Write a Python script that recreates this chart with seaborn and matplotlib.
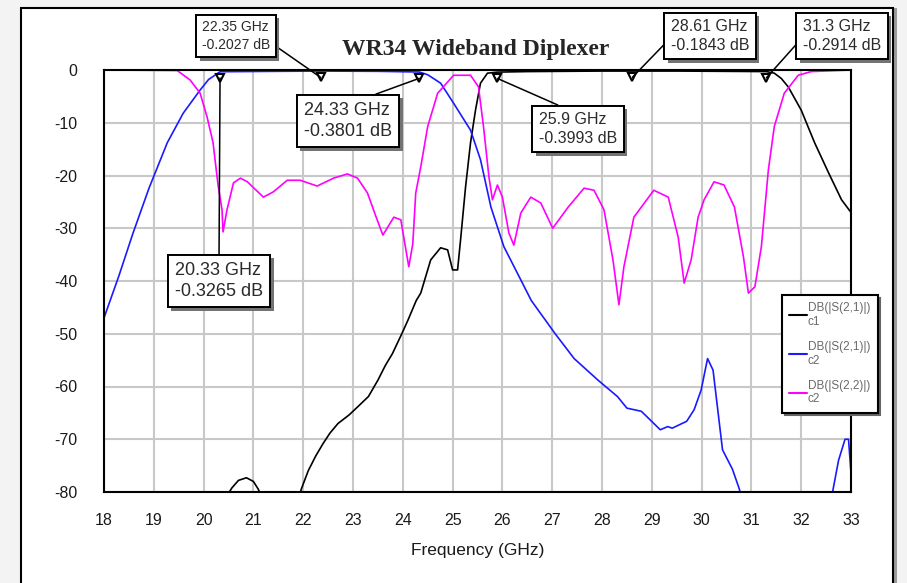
import seaborn as sns
import matplotlib.pyplot as plt
import matplotlib.patheffects as pe
from matplotlib.patches import Rectangle

# DB(|S(2,1)|) c1 - high band channel
freq_c1 = [18.0, 20.45, 20.57, 20.7, 20.86, 21.0, 21.1, 21.2, 21.9, 21.96, 22.1, 22.25, 22.4,
           22.54, 22.7, 22.92, 23.1, 23.31, 23.5, 23.65, 23.79, 23.98, 24.1, 24.27, 24.36, 24.56,
           24.76, 24.9, 25.0, 25.1, 25.16, 25.26, 25.36, 25.46, 25.56, 25.7, 25.9, 26.5, 28.0,
           29.5, 31.3, 31.46, 31.6, 31.74, 32.0, 32.27, 32.55, 32.81, 33.0]
db_c1 = [-95, -81, -79.2, -77.8, -77.3, -78.0, -79.5, -82, -82, -79.5, -76, -73.2, -70.8,
         -68.8, -67, -65.4, -63.8, -61.9, -58.8, -56, -53.8, -50, -47.5, -43.7, -42.3, -36,
         -33.7, -34.1, -37.9, -37.9, -32.2, -22.2, -13.8, -7.6, -2.5, -0.6, -0.4, -0.3, -0.2,
         -0.2, -0.3, -0.6, -1.6, -3.2, -7.6, -13.8, -19.5, -24.6, -27]

# DB(|S(2,1)|) c2 - low band channel
freq_c2 = [18.0, 18.3, 18.58, 18.9, 19.27, 19.59, 19.93, 20.1, 20.33, 21.5, 22.35, 23.5, 24.33,
           24.5, 24.76, 25.02, 25.36, 25.56, 25.77, 26.03, 26.37, 26.58, 27.06, 27.44, 27.92,
           28.31, 28.5, 28.79, 29.17, 29.32, 29.41, 29.7, 29.85, 29.99, 30.12, 30.23, 30.42,
           30.62, 30.76, 30.85, 32.55, 32.64, 32.75, 32.88, 32.95, 33.0]
db_c2 = [-47, -39, -31, -22.5, -13.8, -8.2, -3.8, -1.8, -0.33, -0.25, -0.2, -0.25, -0.38,
         -0.9, -2.5, -6.3, -11.4, -17, -26, -33.5, -39.8, -43.7, -50, -54.7, -58.8,
         -61.9, -64.1, -64.7, -68.2, -67.6, -67.9, -66.6, -64.4, -60.7, -54.7, -56.9, -72,
         -75.7, -79.5, -85, -85, -79.5, -74, -70, -70, -76.4]

# DB(|S(2,2)|) c2 - common port return loss
freq_s22 = [18.0, 19.47, 19.73, 19.93, 20.07, 20.19, 20.29, 20.37, 20.39, 20.47, 20.6, 20.74,
            20.88, 21.2, 21.4, 21.68, 21.94, 22.28, 22.61, 22.89, 23.09, 23.29, 23.45, 23.6,
            23.82, 23.96, 24.12, 24.2, 24.26, 24.36, 24.5, 24.7, 25.02, 25.36, 25.52, 25.62,
            25.73, 25.8, 25.9, 26.0, 26.13, 26.23, 26.37, 26.57, 26.77, 27.01, 27.32, 27.64,
            27.84, 28.04, 28.22, 28.34, 28.44, 28.64, 29.04, 29.33, 29.53, 29.65, 29.79, 29.93,
            30.05, 30.25, 30.45, 30.66, 30.84, 30.94, 31.07, 31.2, 31.34, 31.46, 31.66, 31.94,
            32.2, 33.0]
db_s22 = [0, -0.1, -1.9, -4.4, -8.9, -13.8, -21.8, -26.5, -30.7, -26.5, -21.4, -20.5,
          -21.2, -24.1, -23.1, -20.9, -20.9, -22.0, -20.5, -19.7, -20.5, -23.3, -27.5, -31.3,
          -27.9, -28.4, -37.3, -33, -23.3, -18.4, -10.7, -4.4, -1.0, -1.0, -3.2, -10.7,
          -20.3, -24.6, -21.8, -24.1, -30.9, -33.2, -27.1, -24.1, -25.2, -30.0, -26.0, -22.4,
          -22.8, -26.5, -36.0, -44.5, -37.3, -27.9, -22.8, -24.1, -31.7, -40.4, -36.0, -27.9,
          -24.6, -21.2, -21.8, -26.0, -35.4, -42.3, -41.1, -33.5, -19.0, -10.7, -4.4, -1.0,
          -0.3, 0]

# markers: frequency, dB
marker_freq = [20.33, 22.35, 24.33, 25.9, 28.61, 31.3]
marker_db = [-0.3265, -0.2027, -0.3801, -0.3993, -0.1843, -0.2914]

x_ticks = list(range(18, 34))
y_ticks = list(range(0, -81, -10))
legend_labels = ["DB(|S(2,1)|)\nc1", "DB(|S(2,1)|)\nc2", "DB(|S(2,2)|)\nc2"]

sns.set_style("white")
plt.rcParams["font.family"] = ["Liberation Sans", "DejaVu Sans"]
plt.rcParams["axes.unicode_minus"] = False

W, H = 907, 583
fig = plt.figure(figsize=(W / 100, H / 100), dpi=100, facecolor="#f3f3f3")

# window frame
fig.add_artist(Rectangle((25 / W, -0.05), 872 / W, 1.05 - 8 / H, transform=fig.transFigure,
                         fc="#9a9a9a", ec="none", zorder=-3))
fig.add_artist(Rectangle((21 / W, -0.05), 872 / W, 1.05 - 8 / H, transform=fig.transFigure,
                         fc="white", ec="black", lw=1.5, zorder=-2))

ax = fig.add_axes([104 / W, 1 - 492 / H, 747 / W, 422 / H])
ax.set_facecolor("white")

sns.lineplot(x=freq_c1, y=db_c1, ax=ax, color="black", lw=1.2, sort=False, estimator=None,
             label=legend_labels[0])
sns.lineplot(x=freq_c2, y=db_c2, ax=ax, color="#1a1aff", lw=1.2, sort=False, estimator=None,
             label=legend_labels[1])
sns.lineplot(x=freq_s22, y=db_s22, ax=ax, color="#ff00ff", lw=1.2, sort=False, estimator=None,
             label=legend_labels[2])
ax.plot(marker_freq, [d - 1.2 for d in marker_db], "v", ms=6, mfc="white", mec="black",
        mew=1.5, clip_on=False, zorder=5)

ax.set_xlim(18, 33)
ax.set_ylim(-80, 0)
ax.set_xticks(x_ticks)
ax.set_yticks(y_ticks)
ax.grid(True, color="#c8c8c8", lw=1.5)
ax.set_axisbelow(True)
for s in ax.spines.values():
    s.set_color("black")
    s.set_linewidth(1.5)
ax.tick_params(axis="both", length=0, labelsize=11.5, colors="#1a1a1a")
ax.tick_params(axis="y", pad=19)
ax.tick_params(axis="x", pad=15)
ax.set_xlabel("Frequency (GHz)", fontsize=12.5, color="#1a1a1a", labelpad=11)
ax.set_ylabel("")

leg = ax.legend(loc="upper left", bbox_to_anchor=((782 - 104) / 747, (492 - 295) / 422),
                borderaxespad=0, fontsize=8.5, frameon=True, fancybox=False,
                shadow={"color": "0.4", "alpha": 1}, handlelength=1.5, handletextpad=0.1,
                labelspacing=1.1, borderpad=0.6)
leg.get_frame().set_edgecolor("black")
leg.get_frame().set_linewidth(1.5)
for t in leg.get_texts():
    t.set_color("#6a6a6a")
for h in leg.get_lines():
    h.set_linewidth(1.5)

fig.text(476 / W, 1 - 49 / H, "WR34 Wideband Diplexer", ha="center", va="center",
         family=["Liberation Serif", "DejaVu Serif"], weight="bold", fontsize=17)

# marker read-outs: text, box centre (px), leader start on the box, font size
boxes = [
    ("20.33 GHz\n-0.3265 dB", (219, 281), (0.5, 1.0), 13),
    ("22.35 GHz\n-0.2027 dB", (236, 36), (1.0, 0.3), 10),
    ("24.33 GHz\n-0.3801 dB", (348, 121), (0.57, 1.0), 13),
    ("25.9 GHz\n-0.3993 dB", (578, 129), (0.45, 1.0), 11.5),
    ("28.61 GHz\n-0.1843 dB", (710, 36), (0.0, 0.45), 11.5),
    ("31.3 GHz\n-0.2914 dB", (842, 36), (0.0, 0.47), 11.5),
]
for (txt, (bx, by), rel, fs), f, d in zip(boxes, marker_freq, marker_db):
    ann = ax.annotate(txt, xy=(f, d - 1.2), xycoords="data", xytext=(bx, H - by),
                      textcoords="figure pixels", ha="center", va="center",
                      multialignment="left", fontsize=fs, color="#2a2a2a", linespacing=1.3,
                      bbox=dict(boxstyle="square,pad=0.4", fc="white", ec="black", lw=1.4),
                      arrowprops=dict(arrowstyle="-", color="black", lw=1.1, relpos=rel,
                                      shrinkA=0, shrinkB=0),
                      zorder=6, annotation_clip=False)
    ann.get_bbox_patch().set_path_effects([
        pe.withSimplePatchShadow(offset=(2.5, -2.5), shadow_rgbFace="0.45", alpha=1),
        pe.Normal()])

fig.savefig("out.png", dpi=100, facecolor=fig.get_facecolor())
